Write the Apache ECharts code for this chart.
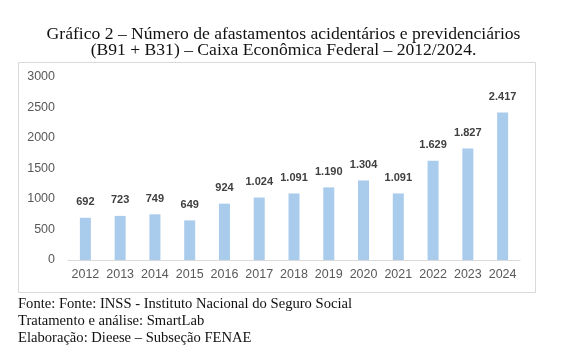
<!DOCTYPE html>
<html><head><meta charset="utf-8">
<script src="https://cdn.jsdelivr.net/npm/echarts@6/dist/echarts.min.js"></script>
<style>html,body{margin:0;padding:0;background:#fff}#c{width:567px;height:355px}</style>
</head><body><div id="c"></div>
<script>
const categories = ['2012','2013','2014','2015','2016','2017','2018','2019','2020','2021','2022','2023','2024'];
const values = [692,723,749,649,924,1024,1091,1190,1304,1091,1629,1827,2417];
const titleLines = ['Gráfico 2 – Número de afastamentos acidentários e previdenciários','(B91 + B31) – Caixa Econômica Federal – 2012/2024.'];
const footerLines = ['Fonte: Fonte: INSS - Instituto Nacional do Seguro Social','Tratamento e análise: SmartLab','Elaboração: Dieese – Subseção FENAE'];

function fmt(v){return String(v).replace(/\B(?=(\d{3})+(?!\d))/g,'.');}
const chart = echarts.init(document.getElementById('c'),null,{renderer:'canvas'});
chart.setOption({
  animation:false,
  backgroundColor:'#fff',
  title:{text:titleLines.join('\n'),left:'center',top:21,
    textStyle:{fontFamily:'Liberation Serif',fontSize:17.6,fontWeight:'normal',color:'#111',lineHeight:16}},
  graphic:[
    {type:'rect',shape:{x:18.5,y:62.5,width:517,height:230},style:{fill:'none',stroke:'#d9d9d9',lineWidth:1},z:-1},
    {type:'text',left:18,top:296,style:{text:footerLines.join('\n'),fontFamily:'Liberation Serif',fontSize:14.6,lineHeight:17,fill:'#111'}}
  ],
  grid:{left:68,right:47,top:77,bottom:95,containLabel:false},
  xAxis:{type:'category',data:categories,
    axisLine:{lineStyle:{color:'#d9d9d9'}},axisTick:{show:false},
    axisLabel:{interval:0,color:'#595959',fontFamily:'Liberation Sans',fontSize:12.5,margin:8}},
  yAxis:{type:'value',min:0,max:3000,interval:500,
    axisLine:{show:false},axisTick:{show:false},splitLine:{show:false},
    axisLabel:{color:'#595959',fontFamily:'Liberation Sans',fontSize:12.5,margin:13,formatter:v=>String(v)}},
  series:[{type:'bar',data:values,barWidth:11,
    itemStyle:{color:'#a9cbec'},
    label:{show:true,position:'top',distance:10,formatter:p=>fmt(p.value),
      fontFamily:'Liberation Sans',fontWeight:'bold',fontSize:11,color:'#404040'}}]
});
</script></body></html>
